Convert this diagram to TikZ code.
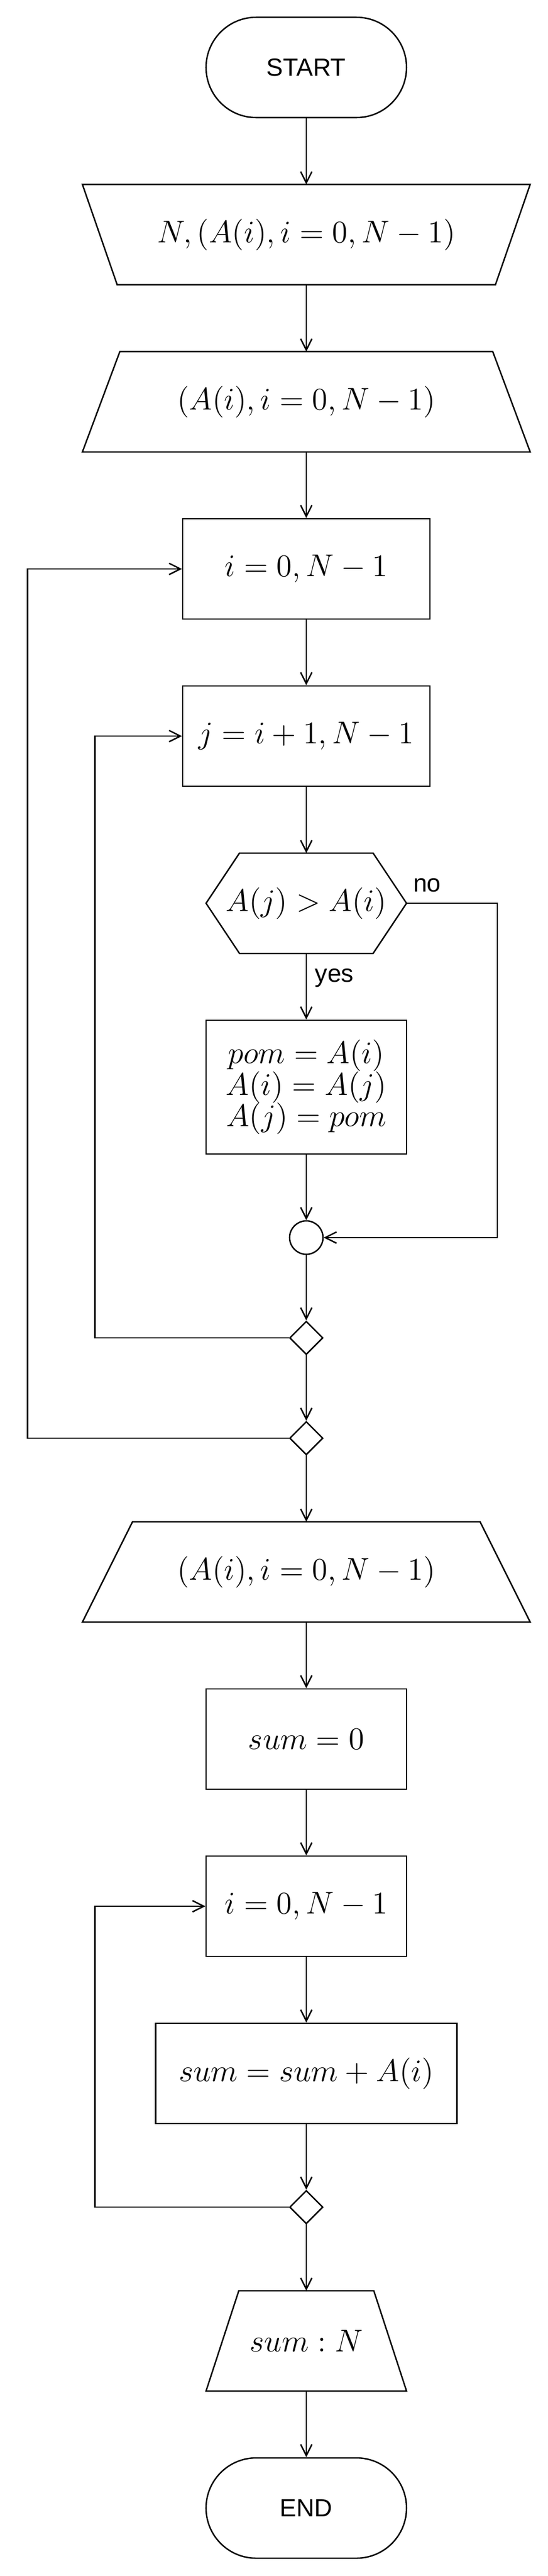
\RequirePackage{fix-cm}
\documentclass[tikz,border=0pt]{standalone}
\usepackage{fontspec}
\setsansfont{Liberation Sans}
\usepackage{amsmath}
\usetikzlibrary{arrows.meta,shapes.geometric}

\begin{document}
\begin{tikzpicture}[line width=0.6pt, >={Straight Barb[length=4.8pt,width=4.8pt]},
    every node/.style={font=\fontsize{13.4}{13.4}\selectfont},
    terminal/.style={draw, rounded corners=0.75cm, minimum width=3cm, minimum height=1.5cm, font=\sffamily\fontsize{10.6}{12}\selectfont},
    iobox/.style={outer sep=0pt, minimum width=#1, minimum height=1.5cm},
    procbox/.style={draw, minimum width=#1, minimum height=1.5cm, align=center},
    joint/.style={draw, circle, minimum size=0.5cm, inner sep=0pt},
    merge/.style={draw, diamond, minimum width=0.5cm, minimum height=0.5cm, inner sep=0pt},
    lbl/.style={inner sep=0pt, font=\sffamily\fontsize{10.6}{12}\selectfont}]
        \useasboundingbox (-4.5833, 1.0083) rectangle (3.6167, -37.5167);

        \node[terminal] (start) at (0, 0) {START};
        \node[iobox=6.7cm] (rd1) at (0, -2.5) {$N,(A(i),i=0,N-1)$};
        \draw (rd1.north west) -- (rd1.north east) -- ([xshift=-0.52cm]rd1.south east) -- ([xshift=0.52cm]rd1.south west) -- cycle;
        \node[iobox=6.7cm] (rd2) at (0, -5) {$(A(i),i=0,N-1)$};
        \draw ([xshift=0.56cm]rd2.north west) -- ([xshift=-0.56cm]rd2.north east) -- (rd2.south east) -- (rd2.south west) -- cycle;
        \node[procbox=3.7cm] (fori) at (0, -7.5) {$i=0,N-1$};
        \node[procbox=3.7cm] (forj) at (0, -10) {$j=i+1,N-1$};
        \node[iobox=3cm] (cond) at (0, -12.5) {$A(j)>A(i)$};
        \draw (cond.west) -- ([xshift=0.5cm]cond.north west) -- ([xshift=-0.5cm]cond.north east) -- (cond.east) -- ([xshift=-0.5cm]cond.south east) -- ([xshift=0.5cm]cond.south west) -- cycle;
        \node[procbox=3cm, minimum height=2cm] (swap) at (0, -15.25) {$pom=A(i)$\\$A(i)=A(j)$\\$A(j)=pom$};
        \node[joint] (join) at (0, -17.5) {};
        \node[merge] (endj) at (0, -19) {};
        \node[merge] (endi) at (0, -20.5) {};
        \node[iobox=6.7cm] (wr) at (0, -22.5) {$(A(i),i=0,N-1)$};
        \draw ([xshift=0.75cm]wr.north west) -- ([xshift=-0.75cm]wr.north east) -- (wr.south east) -- (wr.south west) -- cycle;
        \node[procbox=3cm] (sum0) at (0, -25) {$sum=0$};
        \node[procbox=3cm] (fors) at (0, -27.5) {$i=0,N-1$};
        \node[procbox=4.51cm] (add) at (0, -30) {$sum=sum+A(i)$};
        \node[merge] (ends) at (0, -32) {};
        \node[iobox=3cm] (out) at (0, -34) {$sum:N$};
        \draw ([xshift=0.49cm]out.north west) -- ([xshift=-0.49cm]out.north east) -- (out.south east) -- (out.south west) -- cycle;
        \node[terminal] (stop) at (0, -36.5) {END};

        \draw[->] (start) -- (rd1);
        \draw[->] (rd1) -- (rd2);
        \draw[->] (rd2) -- (fori);
        \draw[->] (fori) -- (forj);
        \draw[->] (forj) -- (cond);
        \draw[->] (cond.south) node[lbl, anchor=north west, xshift=0.12cm, yshift=-0.22cm] {yes} -- (swap);
        \draw[->] (cond.east) node[lbl, anchor=south west, xshift=0.09cm, yshift=0.16cm] {no} -- ++(1.36, 0) |- (join);
        \draw[->] (swap) -- (join);
        \draw[->] (join) -- (endj);
        \draw[->] (endj) -- (endi);
        \draw[->] (endi) -- (wr);
        \draw[->] (endj.west) -- ++(-2.9, 0) |- (forj);
        \draw[->] (endi.west) -- ++(-3.908, 0) |- (fori);
        \draw[->] (wr) -- (sum0);
        \draw[->] (sum0) -- (fors);
        \draw[->] (fors) -- (add);
        \draw[->] (add) -- (ends);
        \draw[->] (ends) -- (out);
        \draw[->] (ends.west) -- ++(-2.9, 0) |- (fors);
        \draw[->] (out) -- (stop);
\end{tikzpicture}
\end{document}
